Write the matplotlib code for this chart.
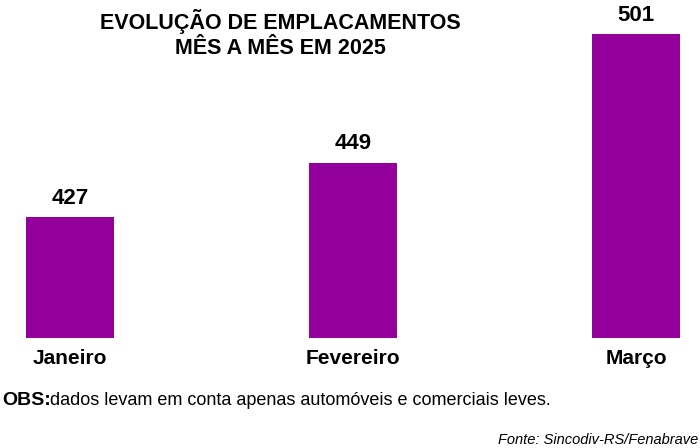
import matplotlib
matplotlib.use("Agg")
import matplotlib.pyplot as plt

categories = ["Janeiro", "Fevereiro", "Março"]
values = [427, 449, 501]

fam = ["Liberation Sans Narrow", "Liberation Sans", "DejaVu Sans"]
purple = "#93009b"

fig = plt.figure(figsize=(7, 4.48), dpi=100)
ax = fig.add_axes([0, 110/448, 1, 338/448])
x = list(range(len(categories)))
ax.bar(x, values, width=0.311, color=purple)
ax.set_xlim(-70/283, 630/283)
ax.set_ylim(378.1, 514.7)
ax.axis("off")
for xi, v in zip(x, values):
    ax.annotate(str(v), (xi, v), xytext=(0, 6), textcoords="offset points",
                ha="center", va="bottom", fontsize=16, fontweight="bold", family=fam)
for xi, c in zip(x, categories):
    fig.text((70 + 283*xi)/700, 1 - 358/448, c, ha="center", va="center",
             fontsize=15, fontweight="bold", family=fam)
fig.text(280/700, 1 - 34/448, "EVOLUÇÃO DE EMPLACAMENTOS\nMÊS A MÊS EM 2025", ha="center",
         va="center", fontsize=15.5, fontweight="bold", family=fam, linespacing=1.25)
fig.text(2/700, 1 - 400/448, "OBS:", ha="left", va="center", fontsize=14,
         fontweight="bold", family=fam)
fig.text(50/700, 1 - 400/448, "dados levam em conta apenas automóveis e comerciais leves.",
         ha="left", va="center", fontsize=13, family=fam)
fig.text(698/700, 1 - 440/448, "Fonte: Sincodiv-RS/Fenabrave", ha="right", va="center",
         fontsize=10.5, style="italic", family=fam)
fig.savefig("out.png", dpi=100)
